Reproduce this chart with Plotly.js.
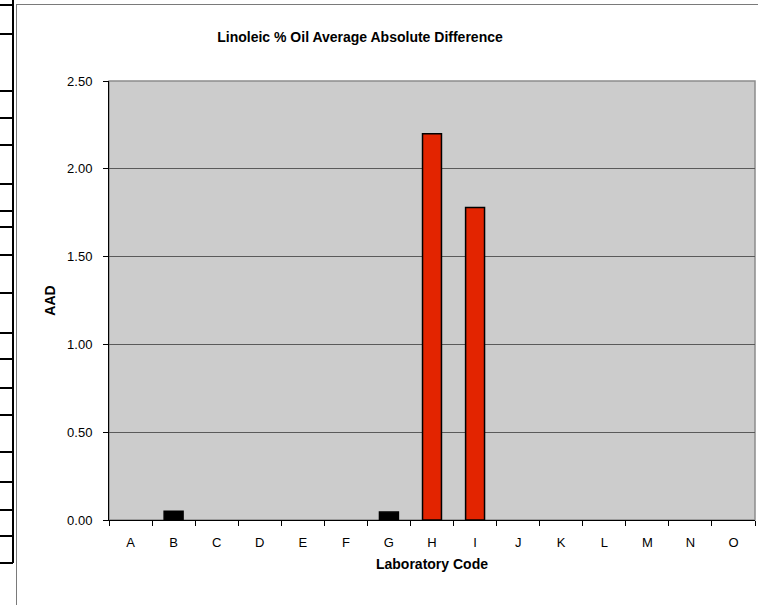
<!DOCTYPE html>
<html>
<head>
<meta charset="utf-8">
<script src="https://cdn.plot.ly/plotly-3.0.1.min.js"></script>
<style>
  html, body { margin: 0; padding: 0; background: #ffffff; }
  #wrap { position: relative; width: 758px; height: 605px; overflow: hidden; }
  #chart { position: absolute; left: 0; top: 0; width: 758px; height: 605px; }
  .ln { position: absolute; pointer-events: none; }
</style>
</head>
<body>
<div id="wrap">
  <div id="chart"></div>
</div>
<script>
// ---- data ----
const labCodes = ["A", "B", "C", "D", "E", "F", "G", "H", "I", "J", "K", "L", "M", "N", "O"];
const aadValues = [0, 0.05, 0, 0, 0, 0, 0.045, 2.20, 1.78, 0, 0, 0, 0, 0, 0];
const yTickValues = [0, 0.5, 1.0, 1.5, 2.0, 2.5];
const chartTitle = "Linoleic % Oil Average Absolute Difference";
const xTitle = "Laboratory Code";
const yTitle = "AAD";

// ---- styling rules ----
const FONT = "Liberation Sans, Arial, sans-serif";
const highlightThreshold = 1.0;
const barColors = aadValues.map(v => v > highlightThreshold ? "#e32400" : "#000000");
const barLineWidths = aadValues.map(v => v > 0 ? 1.5 : 0);

const trace = {
  type: "bar",
  x: labCodes,
  y: aadValues,
  marker: { color: barColors, line: { color: "#000000", width: barLineWidths } },
  hoverinfo: "x+y"
};

const layout = {
  width: 758,
  height: 605,
  margin: { l: 109, r: 3, t: 81, b: 85, pad: 0 },
  paper_bgcolor: "rgba(0,0,0,0)",
  plot_bgcolor: "#cccccc",
  showlegend: false,
  bargap: 0.56,
  font: { family: FONT, size: 14, color: "#000000" },
  title: {
    text: chartTitle,
    font: { family: FONT, size: 14, weight: "bold", color: "#000000" },
    xref: "container", x: 360 / 758, xanchor: "center",
    yref: "container", y: 1 - 37 / 605, yanchor: "middle"
  },
  xaxis: {
    type: "category",
    categoryorder: "array",
    categoryarray: labCodes,
    tickson: "boundaries",
    ticks: "outside",
    ticklen: 5,
    tickwidth: 1,
    tickcolor: "#000000",
    showline: true,
    linecolor: "#000000",
    linewidth: 1,
    showgrid: false,
    zeroline: false,
    ticklabelstandoff: 10,
    tickfont: { family: FONT, size: 13, color: "#000000" },
    title: { text: xTitle, font: { family: FONT, size: 14, weight: "bold", color: "#000000" }, standoff: 10 },
    automargin: false,
    fixedrange: true
  },
  yaxis: {
    range: [0, 2.5],
    tickvals: yTickValues,
    tickformat: ".2f",
    ticks: "outside",
    ticklen: 5,
    tickwidth: 1,
    tickcolor: "#000000",
    showline: true,
    linecolor: "#000000",
    linewidth: 1,
    showgrid: true,
    gridcolor: "#5a5a5a",
    gridwidth: 1,
    zeroline: false,
    ticklabelstandoff: 8,
    tickfont: { family: FONT, size: 13, color: "#000000" },
    title: { text: yTitle, font: { family: FONT, size: 14, weight: "bold", color: "#000000" }, standoff: 8 },
    automargin: false,
    fixedrange: true
  },
  shapes: [
    { type: "rect", xref: "paper", yref: "paper", x0: 0, x1: 1, y0: 0, y1: 1,
      line: { color: "#8c8c8c", width: 1.5 }, layer: "below" }
  ]
};

Plotly.newPlot("chart", [trace], layout, { displayModeBar: false, staticPlot: true });

// ---- decorative frame (spreadsheet border behind the chart object) ----
const wrap = document.getElementById("wrap");
function addLine(l, t, w, h, c) {
  const d = document.createElement("div");
  d.className = "ln";
  d.style.left = l + "px"; d.style.top = t + "px";
  d.style.width = w + "px"; d.style.height = h + "px";
  d.style.background = c;
  wrap.appendChild(d);
}
// chart object border
addLine(16, 4, 742, 1, "#7a7a7a");
addLine(16, 4, 1, 601, "#7a7a7a");
// spreadsheet cell borders at the far left
addLine(12, 0, 2, 563, "#000000");
const rowLines = [4, 33, 90, 117, 144, 183, 210, 226, 254, 292, 332, 358, 387, 414, 451, 481, 509, 535, 562];
rowLines.forEach(y => addLine(0, y, 13, 1.5, "#000000"));
</script>
</body>
</html>
